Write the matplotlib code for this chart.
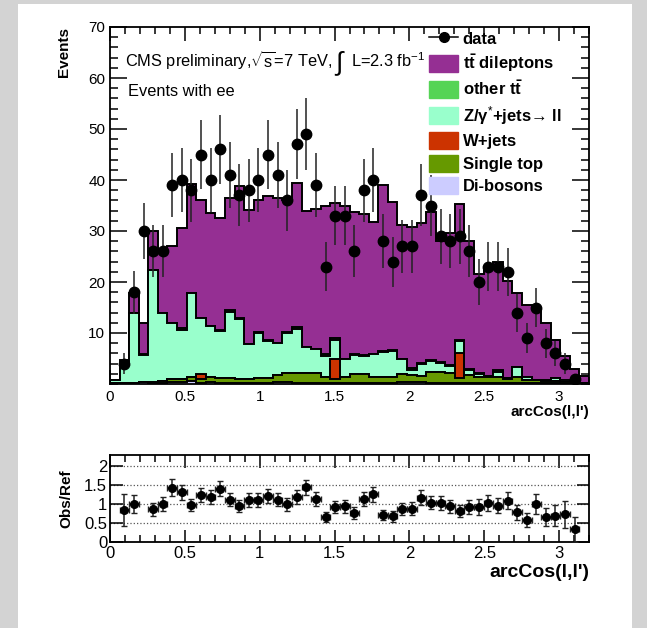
import numpy as np
import matplotlib
matplotlib.use("Agg")
import matplotlib.pyplot as plt
from matplotlib.lines import Line2D
from matplotlib.patches import Patch, Rectangle
from matplotlib.ticker import MultipleLocator

plt.rcParams['font.family'] = ['Liberation Sans', 'DejaVu Sans']
plt.rcParams['mathtext.fontset'] = 'custom'
plt.rcParams['mathtext.rm'] = 'Liberation Sans'
plt.rcParams['mathtext.it'] = 'Liberation Sans:italic'
plt.rcParams['mathtext.bf'] = 'Liberation Sans:bold'

# 50 bins of arcCos(l,l') from 0 to 3.2
bin_edges = np.linspace(0.0, 3.2, 51)

data = [0, 4, 18, 30, 26, 26, 39, 40, 38, 45,
        40, 46, 41, 37, 38, 40, 45, 41, 36, 47,
        49, 39, 23, 33, 33, 26, 38, 40, 28, 24,
        27, 27, 37, 35, 29, 28, 29, 26, 20, 23,
        23, 22, 14, 9, 15, 8, 6, 4, 1, 0]

tt_dileptons = [0.1, 0.9, 3.9, 6.1, 7.6, 11.9, 15.1, 19.6, 21.3, 23.0,
                22.1, 22.0, 21.9, 25.9, 26.3, 25.9, 28.2, 28.4, 26.0, 28.4,
                26.7, 27.5, 29.2, 26.4, 30.0, 28.0, 27.7, 25.9, 32.6, 28.9,
                26.1, 27.6, 27.4, 29.0, 23.8, 26.0, 26.6, 25.2, 19.5, 20.9,
                21.3, 18.9, 14.5, 14.0, 14.0, 11.3, 7.5, 4.7, 2.6, 1.3]
other_tt = [0.0, 0.0, 0.1, 0.1, 0.1, 0.1, 0.1, 0.3, 0.1, 0.1,
            0.1, 0.3, 0.4, 0.3, 0.1, 0.1, 0.1, 0.1, 0.1, 0.3,
            0.1, 0.1, 0.3, 0.3, 0.1, 0.1, 0.1, 0.1, 0.3, 0.3,
            0.1, 0.4, 0.1, 0.1, 0.1, 0.1, 0.1, 0.1, 0.1, 0.1,
            0.3, 0.1, 0.1, 0.1, 0.0, 0.0, 0.0, 0.0, 0.0, 0.0]
z_jets = [0.5, 3.6, 13.7, 5.3, 22.0, 13.3, 11.0, 9.6, 16.4, 10.9,
          9.9, 9.1, 13.0, 11.8, 6.8, 8.8, 7.3, 6.2, 7.9, 8.7,
          5.0, 4.7, 4.1, 3.7, 3.5, 3.8, 3.6, 4.5, 4.9, 5.0,
          3.0, 0.9, 2.5, 2.2, 1.8, 1.4, 2.4, 1.0, 0.6, 0.2,
          1.0, 0.1, 1.9, 0.5, 0.0, 0.2, 0.6, 0.4, 0.1, 0.0]
w_jets = [0.0] * 50
w_jets[9] = 1.1
w_jets[23] = 4.1
w_jets[36] = 5.0
single_top = [0.15, 0.15, 0.1, 0.1, 0.2, 0.5, 0.6, 0.7, 0.9, 0.8,
              1.1, 1.1, 1.1, 0.8, 0.9, 1.1, 1.1, 1.5, 1.8, 1.9,
              2.0, 2.0, 1.3, 0.7, 1.2, 1.8, 1.8, 1.2, 1.2, 1.3,
              1.6, 1.5, 1.2, 2.2, 2.2, 2.0, 0.9, 1.6, 1.2, 1.2,
              1.3, 0.9, 1.2, 0.7, 0.7, 0.4, 0.4, 0.35, 0.25, 0.15]
dibosons = [0.05, 0.05, 0.1, 0.3, 0.1, 0.1, 0.3, 0.3, 0.5, 0.1,
            0.3, 0.1, 0.1, 0.1, 0.1, 0.1, 0.1, 0.3, 0.3, 0.2,
            0.2, 0.1, 0.1, 0.2, 0.2, 0.1, 0.1, 0.1, 0.1, 0.1,
            0.3, 0.3, 0.3, 0.2, 0.2, 0.2, 0.2, 0.2, 0.2, 0.1,
            0.1, 0.1, 0.2, 0.1, 0.1, 0.1, 0.1, 0.05, 0.05, 0.05]

# stack order, bottom to top
layers = [dibosons, single_top, w_jets, z_jets, other_tt, tt_dileptons]
colors = ['#ccccff', '#669900', '#cc3300', '#99ffcc', '#55d455', '#952f93']
labels = ['Di-bosons', 'Single top', 'W+jets',
          'Z/γ$^{*}$+jets→ ll',
          r'other $\mathbf{t\bar{t}}$', r'$\mathbf{t\bar{t}}$ dileptons']

centers = 0.5 * (bin_edges[:-1] + bin_edges[1:])
half_width = 0.5 * (bin_edges[1] - bin_edges[0])
data = np.array(data, dtype=float)
cum = np.cumsum(np.array(layers, dtype=float), axis=0)
total = cum[-1]

fig = plt.figure(figsize=(6.47, 6.28), dpi=100, facecolor='#d3d3d3')
fig.patches.append(Rectangle((18 / 647, 0), 614 / 647, 1 - 4 / 628,
                             transform=fig.transFigure, facecolor='white',
                             edgecolor='none', zorder=-10))

ax = fig.add_axes([110 / 647, 1 - 384 / 628, 479 / 647, 357 / 628])
ax2 = fig.add_axes([110 / 647, 1 - 542 / 628, 479 / 647, 87 / 628])

# ROOT style stack: draw the largest cumulative first
for k in reversed(range(len(layers))):
    ax.stairs(cum[k], bin_edges, fill=True, color=colors[k], lw=0, zorder=2)
    ax.stairs(cum[k], bin_edges, color='black', lw=1.4, zorder=2)

has = data > 0
ax.errorbar(centers[has], data[has], yerr=np.sqrt(data[has]), fmt='o',
            color='black', ecolor='#222222', elinewidth=1.1, markersize=7.5,
            capsize=0, zorder=5)

ax.set_xlim(0, 3.2)
ax.set_ylim(0, 70)
ax.xaxis.set_minor_locator(MultipleLocator(0.1))
ax.yaxis.set_minor_locator(MultipleLocator(2))
ax.set_xticks([0, 0.5, 1, 1.5, 2, 2.5, 3])
ax.set_xticklabels(['0', '0.5', '1', '1.5', '2', '2.5', '3'])
ax.set_yticks([10, 20, 30, 40, 50, 60, 70])
ax.tick_params(axis='both', which='both', direction='in', top=True, right=True,
               labelsize=11, width=1.1)
ax.tick_params(axis='y', which='major', length=12)
ax.tick_params(axis='y', which='minor', length=6)
ax.tick_params(axis='x', which='major', length=10, pad=4)
ax.tick_params(axis='x', which='minor', length=5)
for s in ax.spines.values():
    s.set_linewidth(1.3)
ax.set_ylabel('Events', loc='top', fontsize=11, fontweight='bold', labelpad=12)
ax.set_xlabel("arcCos(l,l')", loc='right', fontsize=11, fontweight='bold', labelpad=1)

ax.text(0.031, 0.907, r"CMS preliminary,$\sqrt{\mathrm{s}}$=7 TeV,",
        transform=ax.transAxes, fontsize=11.8, va='center', ha='left')
ax.text(0.468, 0.897, r"$\int$", transform=ax.transAxes, fontsize=19,
        va='center', ha='left')
ax.text(0.503, 0.907, r"L=2.3 fb$^{\mathregular{-1}}$", transform=ax.transAxes,
        fontsize=11.8, va='center', ha='left')
ax.text(0.038, 0.818, 'Events with ee', transform=ax.transAxes, fontsize=11.8,
        va='center', ha='left')

handles = [Line2D([], [], color='black', marker='o', markersize=7, lw=1.1)]
for k in reversed(range(len(layers))):
    handles.append(Patch(facecolor=colors[k], edgecolor=colors[k]))
leg_labels = ['data'] + labels[::-1]
ax.legend(handles, leg_labels, loc='upper left', bbox_to_anchor=(0.66, 1.0),
          frameon=False, prop={'weight': 'bold', 'size': 12},
          handlelength=1.7, handleheight=1.2, labelspacing=0.32,
          handletextpad=0.3, borderpad=0.2, borderaxespad=0)

# ratio panel
ratio = np.where(has, data / np.where(total > 0, total, 1), np.nan)
ratio_err = np.where(has, np.sqrt(data) / np.where(total > 0, total, 1), np.nan)
show = has & (ratio < 2.3)
ax2.errorbar(centers[show], ratio[show], yerr=ratio_err[show], xerr=half_width,
             fmt='o', color='black', ecolor='#222222', elinewidth=1.1,
             markersize=5.5, capsize=2, zorder=5)
ax2.set_xlim(0, 3.2)
ax2.set_ylim(0, 2.3)
ax2.set_xticks([0, 0.5, 1, 1.5, 2, 2.5, 3])
ax2.set_xticklabels(['0', '0.5', '1', '1.5', '2', '2.5', '3'])
ax2.xaxis.set_minor_locator(MultipleLocator(0.1))
ax2.set_yticks([0, 0.5, 1, 1.5, 2])
ax2.set_yticklabels(['0', '0.5', '1', '1.5', '2'])
ax2.yaxis.grid(True, linestyle=':', color='#555555', lw=0.9)
ax2.tick_params(axis='both', which='both', direction='in', top=True, right=True,
                labelsize=12, width=1.1)
ax2.tick_params(axis='x', which='major', length=9, pad=3)
ax2.tick_params(axis='x', which='minor', length=5)
ax2.tick_params(axis='y', which='major', length=9, pad=2)
for s in ax2.spines.values():
    s.set_linewidth(1.3)
ax2.set_ylabel('Obs/Ref', fontsize=11, fontweight='bold', labelpad=8)
ax2.set_xlabel("arcCos(l,l')", loc='right', fontsize=14, fontweight='bold', labelpad=2)

fig.savefig('out.png', dpi=100, facecolor=fig.get_facecolor())
